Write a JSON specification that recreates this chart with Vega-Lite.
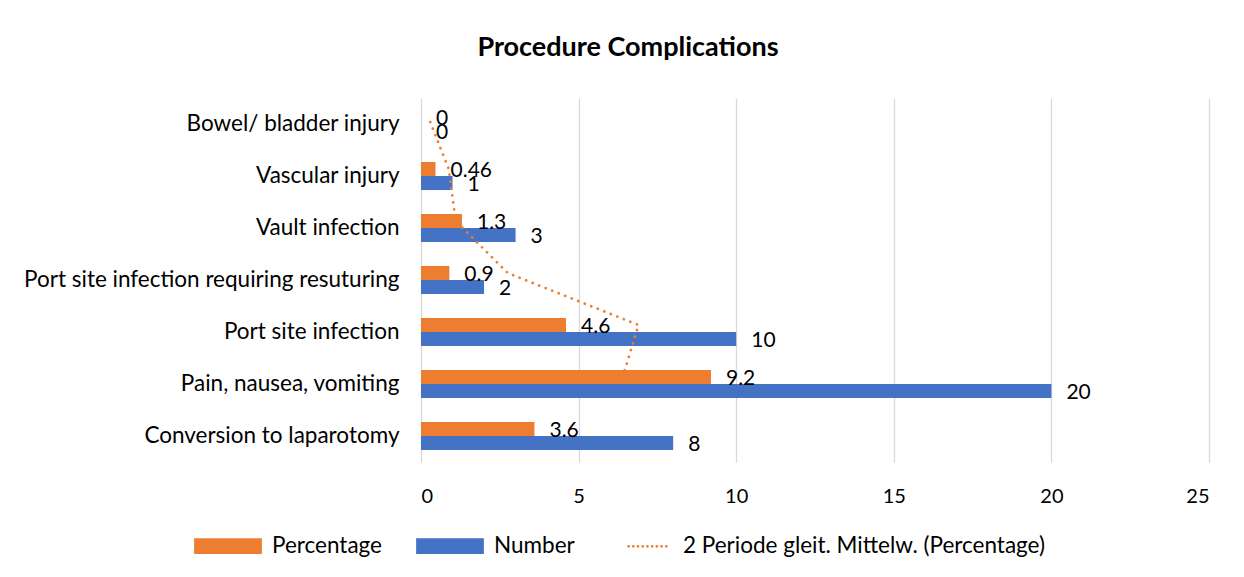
{
  "$schema": "https://vega.github.io/schema/vega-lite/v6.json",
  "autosize": {"type": "none"},
  "width": 788,
  "height": 364,
  "padding": {"left": 421, "top": 98, "right": 35, "bottom": 115},
  "background": "#ffffff",
  "title": {
    "text": "Procedure Complications",
    "font": "Lato",
    "fontSize": 27,
    "fontWeight": "bold",
    "color": "#000000",
    "anchor": "middle",
    "dx": -187,
    "offset": 36
  },
  "config": {
    "view": {"stroke": null},
    "font": "Lato"
  },
  "datasets": {
    "bars": [
      {"category": "Bowel/ bladder injury", "series": "Percentage", "value": 0, "label": "0"},
      {"category": "Bowel/ bladder injury", "series": "Number", "value": 0, "label": "0"},
      {"category": "Vascular injury", "series": "Percentage", "value": 0.46, "label": "0.46"},
      {"category": "Vascular injury", "series": "Number", "value": 1, "label": "1"},
      {"category": "Vault infection", "series": "Percentage", "value": 1.3, "label": "1.3"},
      {"category": "Vault infection", "series": "Number", "value": 3, "label": "3"},
      {"category": "Port site infection requiring resuturing", "series": "Percentage", "value": 0.9, "label": "0.9"},
      {"category": "Port site infection requiring resuturing", "series": "Number", "value": 2, "label": "2"},
      {"category": "Port site infection", "series": "Percentage", "value": 4.6, "label": "4.6"},
      {"category": "Port site infection", "series": "Number", "value": 10, "label": "10"},
      {"category": "Pain, nausea, vomiting", "series": "Percentage", "value": 9.2, "label": "9.2"},
      {"category": "Pain, nausea, vomiting", "series": "Number", "value": 20, "label": "20"},
      {"category": "Conversion to laparotomy", "series": "Percentage", "value": 3.6, "label": "3.6"},
      {"category": "Conversion to laparotomy", "series": "Number", "value": 8, "label": "8"}
    ],
    "trend": [
      {"category": "Pain, nausea, vomiting", "series": "Percentage", "ma": 6.4, "idx": 1},
      {"category": "Port site infection", "series": "Percentage", "ma": 6.9, "idx": 2},
      {"category": "Port site infection requiring resuturing", "series": "Percentage", "ma": 2.75, "idx": 3},
      {"category": "Vault infection", "series": "Percentage", "ma": 1.1, "idx": 4},
      {"category": "Vascular injury", "series": "Percentage", "ma": 0.88, "idx": 5},
      {"category": "Bowel/ bladder injury", "series": "Percentage", "ma": 0.23, "idx": 6}
    ]
  },
  "encoding": {
    "y": {
      "field": "category",
      "type": "nominal",
      "sort": ["Bowel/ bladder injury", "Vascular injury", "Vault infection", "Port site infection requiring resuturing", "Port site infection", "Pain, nausea, vomiting", "Conversion to laparotomy"],
      "scale": {"paddingInner": 0.46, "paddingOuter": 0.23},
      "axis": {
        "title": null,
        "domain": false,
        "ticks": false,
        "labelFont": "Lato",
        "labelFontSize": 22.5,
        "labelColor": "#000000",
        "labelPadding": 22,
        "labelLimit": 500
      }
    },
    "yOffset": {
      "field": "series",
      "type": "nominal",
      "sort": ["Percentage", "Number"],
      "scale": {"paddingInner": 0, "paddingOuter": 0}
    }
  },
  "layer": [
    {
      "data": {"name": "bars"},
      "mark": {"type": "bar"},
      "encoding": {
        "x": {
          "field": "value",
          "type": "quantitative",
          "scale": {"domain": [0, 25], "nice": false},
          "axis": {
            "title": null,
            "values": [0, 5, 10, 15, 20, 25],
            "domain": false,
            "ticks": false,
            "grid": true,
            "gridColor": "#D9D9D9",
            "gridWidth": 1.3,
            "labelFont": "Lato",
            "labelFontSize": 20,
            "labelColor": "#000000",
            "labelPadding": 24
          }
        },
        "color": {
          "field": "series",
          "type": "nominal",
          "scale": {
            "domain": ["Percentage", "Number", "2 Periode gleit. Mittelw. (Percentage)"],
            "range": ["#ED7D31", "#4472C4", "#ED7D31"]
          },
          "legend": {
            "orient": "none",
            "legendX": -227,
            "legendY": 414,
            "direction": "horizontal",
            "title": null,
            "symbolType": "M-1,-0.2H1V0.2H-1Z",
            "symbolSize": 4225,
            "labelFont": "Lato",
            "labelFontSize": 22.5,
            "labelColor": "#000000",
            "labelOffset": 10,
            "columnPadding": 30,
            "labelLimit": 600,
            "encode": {
              "symbols": {
                "update": {
                  "shape": {"signal": "datum.value === '2 Periode gleit. Mittelw. (Percentage)' ? 'M-0.32,0H0.85' : 'M-1,-0.2H1V0.2H-1Z'"},
                  "fill": {"signal": "datum.value === 'Number' ? '#4472C4' : datum.value === 'Percentage' ? '#ED7D31' : 'transparent'"},
                  "stroke": {"signal": "datum.value === '2 Periode gleit. Mittelw. (Percentage)' ? '#ED7D31' : 'transparent'"},
                  "strokeWidth": {"value": 2.75},
                  "strokeCap": {"value": "round"},
                  "strokeDash": {"signal": "datum.value === '2 Periode gleit. Mittelw. (Percentage)' ? [0.01, 4.7] : []"},
                  "opacity": {"value": 1}
                }
              }
            }
          }
        }
      }
    },
    {
      "data": {"name": "bars"},
      "mark": {"type": "text", "align": "left", "baseline": "middle", "dx": 15, "dy": 2, "font": "Lato", "fontSize": 21, "color": "#000000"},
      "encoding": {
        "x": {"field": "value", "type": "quantitative"},
        "text": {"field": "label", "type": "nominal"}
      }
    },
    {
      "data": {"name": "trend"},
      "mark": {"type": "line", "strokeWidth": 2.75, "strokeCap": "round", "strokeDash": [0.01, 7]},
      "encoding": {
        "x": {"field": "ma", "type": "quantitative"},
        "order": {"field": "idx", "type": "quantitative"},
        "color": {"datum": "2 Periode gleit. Mittelw. (Percentage)"}
      }
    }
  ]
}
